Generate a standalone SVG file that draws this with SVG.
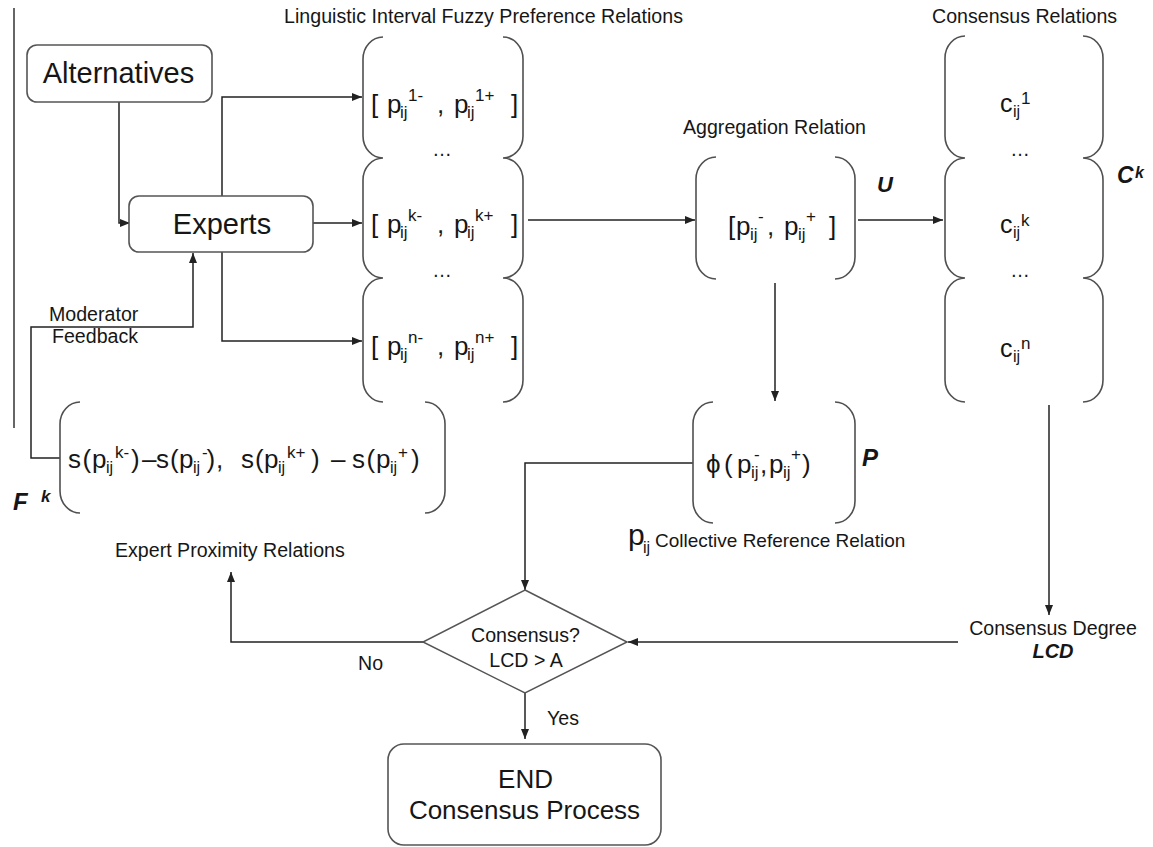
<svg xmlns="http://www.w3.org/2000/svg" width="1153" height="847" viewBox="0 0 1153 847">
<style>
text{font-family:"Liberation Sans",Arial,sans-serif;fill:#161616}
.lbl{font-size:19.6px}
.big{font-size:29px}
.m{font-size:26px}
.s{font-size:17px}
.bi{font-weight:bold;font-style:italic}
.box{fill:#fff;stroke:#555;stroke-width:1.6}
.br{fill:none;stroke:#505050;stroke-width:1.6}
.cn{fill:none;stroke:#222;stroke-width:1.5}
</style>
<defs>
<marker id="ah" markerUnits="userSpaceOnUse" markerWidth="10" markerHeight="8" refX="10" refY="4" orient="auto">
<path d="M0,0 L10,4 L0,8 z" fill="#222"/>
</marker>
</defs>
<rect width="1153" height="847" fill="#fff"/>
<line x1="14" y1="8" x2="14" y2="428" stroke="#333" stroke-width="1.5"/>

<g id="connectors">
<path class="cn" d="M119,102 V223 H130" marker-end="url(#ah)"/>
<path class="cn" d="M222,196 V97 H362" marker-end="url(#ah)"/>
<path class="cn" d="M313,223 H362" marker-end="url(#ah)"/>
<path class="cn" d="M222,252 V341 H362" marker-end="url(#ah)"/>
<path class="cn" d="M60,458 H31 V327 H193 V253" marker-end="url(#ah)"/>
<path class="cn" d="M528,220 H695" marker-end="url(#ah)"/>
<path class="cn" d="M858,220 H943" marker-end="url(#ah)"/>
<path class="cn" d="M775,283 V401" marker-end="url(#ah)"/>
<path class="cn" d="M693,463 H525 V590" marker-end="url(#ah)"/>
<path class="cn" d="M1049,405 V615" marker-end="url(#ah)"/>
<path class="cn" d="M958,642 H628" marker-end="url(#ah)"/>
<path class="cn" d="M423,642 H231 V572" marker-end="url(#ah)"/>
<path class="cn" d="M525,693 V739" marker-end="url(#ah)"/>
<text class="lbl" x="49" y="321">Moderator</text>
<text class="lbl" x="52" y="343">Feedback</text>
<text class="lbl" x="358" y="670">No</text>
<text class="lbl" x="547" y="725">Yes</text>
<text class="lbl" x="115" y="557">Expert Proximity Relations</text>
</g>

<g id="alternatives">
<rect class="box" x="27" y="45" width="185" height="57" rx="10"/>
<text class="big" x="118.5" y="83" text-anchor="middle">Alternatives</text>
</g>

<g id="experts">
<rect class="box" x="129" y="196" width="184" height="56" rx="10"/>
<text class="big" x="222" y="234" text-anchor="middle">Experts</text>
</g>

<g id="lifpr">
<text class="lbl" x="284" y="23" textLength="399">Linguistic Interval Fuzzy Preference Relations</text>
<path class="br" d="M383,37 A20,22 0 0 0 363,59 V136 A20,22 0 0 0 383,158 A20,22 0 0 0 363,180 V256 A20,22 0 0 0 383,278 A20,22 0 0 0 363,300 V380 A20,22 0 0 0 383,402"/>
<path class="br" d="M503,37 A20,22 0 0 1 523,59 V136 A20,22 0 0 1 503,158 A20,22 0 0 1 523,180 V256 A20,22 0 0 1 503,278 A20,22 0 0 1 523,300 V380 A20,22 0 0 1 503,402"/>
<text class="m"><tspan x="371" y="113">[</tspan><tspan x="387" y="113">p</tspan><tspan class="s" x="400" y="118">ij</tspan><tspan class="s" x="408" y="101">1-</tspan><tspan x="437" y="113">,</tspan><tspan x="454" y="113">p</tspan><tspan class="s" x="467" y="118">ij</tspan><tspan class="s" x="475" y="101">1+</tspan><tspan x="511" y="113">]</tspan></text>
<text class="lbl" x="442" y="156" text-anchor="middle">…</text>
<text class="m"><tspan x="371" y="233">[</tspan><tspan x="387" y="233">p</tspan><tspan class="s" x="400" y="238">ij</tspan><tspan class="s" x="408" y="221">k-</tspan><tspan x="437" y="233">,</tspan><tspan x="454" y="233">p</tspan><tspan class="s" x="467" y="238">ij</tspan><tspan class="s" x="475" y="221">k+</tspan><tspan x="511" y="233">]</tspan></text>
<text class="lbl" x="442" y="277" text-anchor="middle">…</text>
<text class="m"><tspan x="371" y="355">[</tspan><tspan x="387" y="355">p</tspan><tspan class="s" x="400" y="360">ij</tspan><tspan class="s" x="408" y="343">n-</tspan><tspan x="437" y="355">,</tspan><tspan x="454" y="355">p</tspan><tspan class="s" x="467" y="360">ij</tspan><tspan class="s" x="475" y="343">n+</tspan><tspan x="511" y="355">]</tspan></text>
</g>

<g id="aggregation">
<text class="lbl" x="683" y="134">Aggregation Relation</text>
<path class="br" d="M716,157 A20,22 0 0 0 696,179 V257 A20,22 0 0 0 716,279"/>
<path class="br" d="M835,157 A20,22 0 0 1 855,179 V257 A20,22 0 0 1 835,279"/>
<text class="m"><tspan x="728" y="235">[</tspan><tspan x="736" y="235">p</tspan><tspan class="s" x="750" y="240">ij</tspan><tspan class="s" x="758" y="222">-</tspan><tspan x="767" y="235">,</tspan><tspan x="784" y="235">p</tspan><tspan class="s" x="798" y="240">ij</tspan><tspan class="s" x="806" y="222">+</tspan><tspan x="829" y="235">]</tspan></text>
<text class="bi" x="877" y="192" font-size="22">U</text>
</g>

<g id="consensus-relations">
<text class="lbl" x="932" y="23">Consensus Relations</text>
<path class="br" d="M965,36 A20,22 0 0 0 945,58 V136 A20,22 0 0 0 965,158 A20,22 0 0 0 945,180 V256 A20,22 0 0 0 965,278 A20,22 0 0 0 945,300 V380 A20,22 0 0 0 965,402"/>
<path class="br" d="M1083,36 A20,22 0 0 1 1103,58 V136 A20,22 0 0 1 1083,158 A20,22 0 0 1 1103,180 V256 A20,22 0 0 1 1083,278 A20,22 0 0 1 1103,300 V380 A20,22 0 0 1 1083,402"/>
<text font-size="25"><tspan x="1000" y="112">c</tspan><tspan font-size="16" x="1013" y="117">ij</tspan><tspan font-size="17" x="1021" y="104">1</tspan></text>
<text class="lbl" x="1020" y="156" text-anchor="middle">…</text>
<text font-size="25"><tspan x="1000" y="233">c</tspan><tspan font-size="16" x="1013" y="238">ij</tspan><tspan font-size="17" x="1021" y="226">k</tspan></text>
<text class="lbl" x="1020" y="277" text-anchor="middle">…</text>
<text font-size="25"><tspan x="1000" y="357">c</tspan><tspan font-size="16" x="1013" y="362">ij</tspan><tspan font-size="17" x="1021" y="349">n</tspan></text>
<text class="bi"><tspan x="1117" y="183" font-size="23">C</tspan><tspan x="1135" y="178" font-size="16">k</tspan></text>
</g>

<g id="collective">
<path class="br" d="M713,402 A20,22 0 0 0 693,424 V501 A20,22 0 0 0 713,523"/>
<path class="br" d="M835,402 A20,22 0 0 1 855,424 V501 A20,22 0 0 1 835,523"/>
<text class="m"><tspan x="706" y="473">ϕ</tspan><tspan x="724" y="473">(</tspan><tspan x="737" y="473">p</tspan><tspan class="s" x="751" y="478">ij</tspan><tspan class="s" x="754" y="460">-</tspan><tspan x="760" y="473">,</tspan><tspan x="769" y="473">p</tspan><tspan class="s" x="783" y="478">ij</tspan><tspan class="s" x="791" y="460">+</tspan><tspan x="802" y="473">)</tspan></text>
<text class="bi" x="862" y="466" font-size="24">P</text>
<text><tspan x="628" y="545" font-size="30">p</tspan><tspan x="643" y="553" font-size="16">ij</tspan><tspan x="655" y="547" font-size="19">Collective Reference Relation</tspan></text>
</g>

<g id="proximity">
<path class="br" d="M80,402 A20,22 0 0 0 60,424 V491 A20,22 0 0 0 80,513"/>
<path class="br" d="M425,402 A20,22 0 0 1 445,424 V491 A20,22 0 0 1 425,513"/>
<text class="m"><tspan x="68" y="468">s</tspan><tspan x="82.5" y="468">(</tspan><tspan x="92" y="468">p</tspan><tspan font-size="16" x="106" y="473">ij</tspan><tspan font-size="17" x="115" y="458">k-</tspan><tspan x="131" y="468">)</tspan><tspan x="142" y="468">–</tspan><tspan x="156" y="468">s</tspan><tspan x="170" y="468">(</tspan><tspan x="179" y="468">p</tspan><tspan font-size="16" x="193" y="473">ij</tspan><tspan font-size="17" x="202" y="458">-</tspan><tspan x="206.5" y="468">)</tspan><tspan x="216" y="468">,</tspan><tspan x="241" y="468">s</tspan><tspan x="255" y="468">(</tspan><tspan x="264" y="468">p</tspan><tspan font-size="16" x="278" y="473">ij</tspan><tspan font-size="17" x="287" y="458">k+</tspan><tspan x="311" y="468">)</tspan><tspan x="331" y="468">–</tspan><tspan x="352" y="468">s</tspan><tspan x="366.5" y="468">(</tspan><tspan x="376" y="468">p</tspan><tspan font-size="16" x="390" y="473">ij</tspan><tspan font-size="17" x="398" y="458">+</tspan><tspan x="411" y="468">)</tspan></text>
<text class="bi"><tspan x="13" y="510" font-size="24">F</tspan><tspan x="41" y="502" font-size="17">k</tspan></text>
</g>

<g id="decision">
<polygon points="525,590 627,642 525,693 423,642" fill="#fff" stroke="#555" stroke-width="1.5"/>
<text class="lbl" x="525.5" y="642" text-anchor="middle">Consensus?</text>
<text class="lbl" x="526" y="667" text-anchor="middle">LCD &gt; A</text>
</g>

<g id="consensus-degree">
<text class="lbl" x="1053" y="635" text-anchor="middle">Consensus Degree</text>
<text class="bi" x="1053" y="658" font-size="20" text-anchor="middle">LCD</text>
</g>

<g id="end">
<rect class="box" x="388" y="744" width="273" height="101" rx="16"/>
<text x="525.5" y="788" font-size="26" text-anchor="middle">END</text>
<text x="524.5" y="819" font-size="26" text-anchor="middle">Consensus Process</text>
</g>
</svg>
